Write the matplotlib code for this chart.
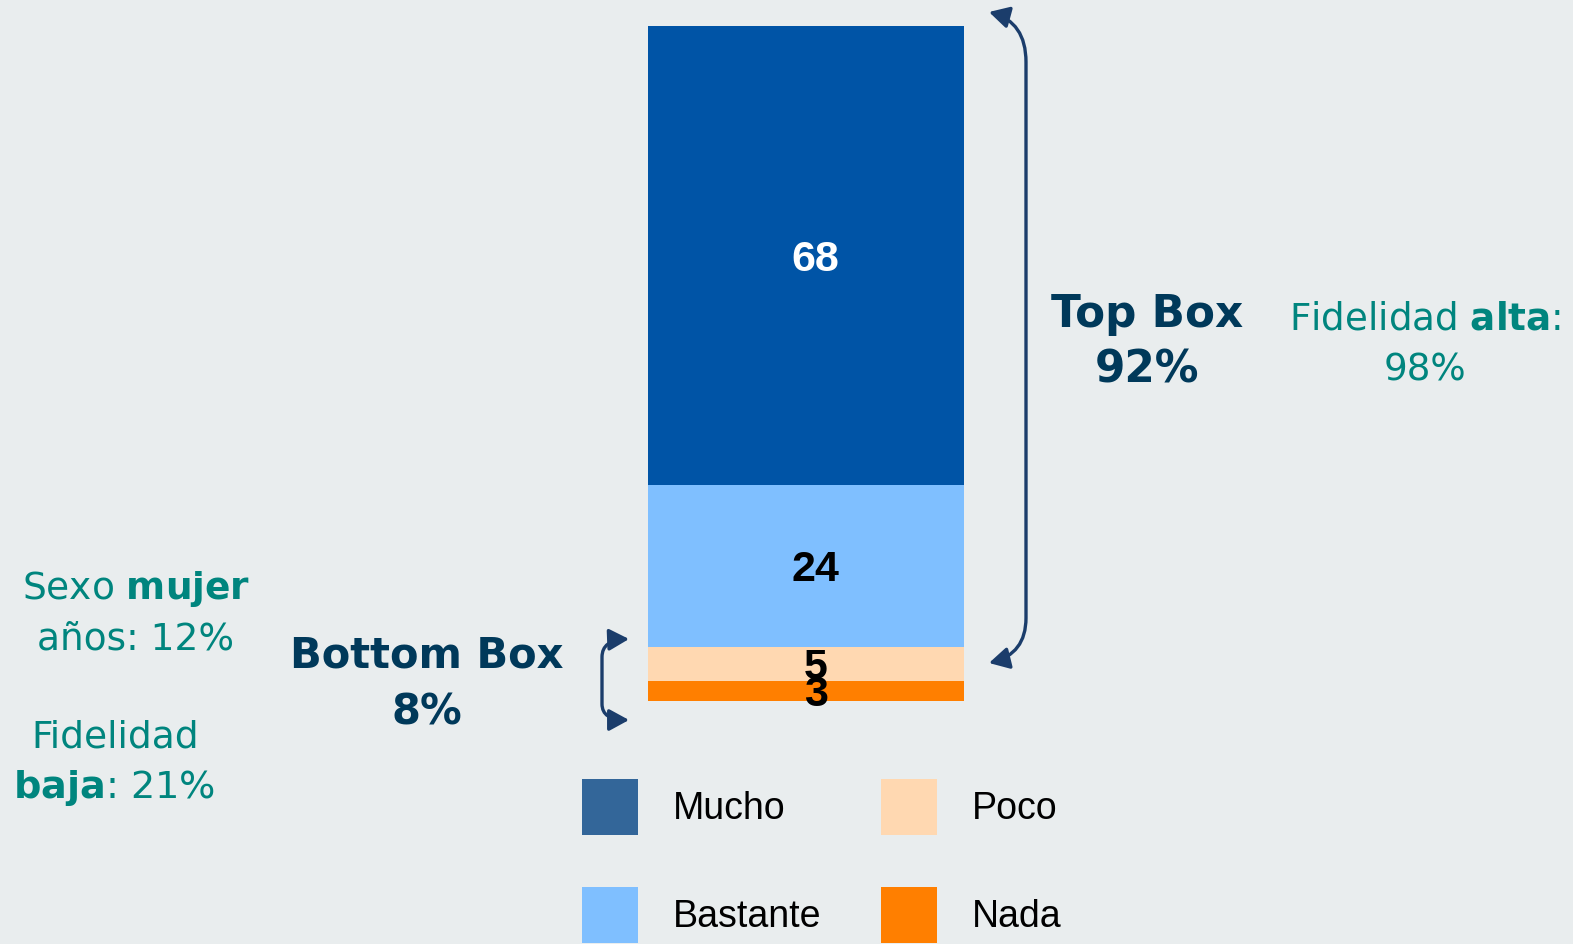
import matplotlib
matplotlib.use("Agg")
import matplotlib.pyplot as plt
from matplotlib.patches import Patch, FancyArrowPatch
from matplotlib.path import Path

categorias = ["Mucho", "Bastante", "Poco", "Nada"]
valores = [68, 24, 5, 3]
colores = ["#0054A6", "#7FBFFF", "#FFD8B1", "#FF7F00"]
colores_leyenda = ["#336699", "#7FBFFF", "#FFD8B1", "#FF7F00"]
color_etiqueta = ["white", "black", "black", "black"]

top_box = "Top Box\n92%"
bottom_box = "Bottom Box\n8%"

fondo = "#E9EDEE"
teal = "#00857E"
navy = "#00395A"
flecha = "#1B3D6B"

plt.rcParams["mathtext.fontset"] = "dejavusans"

W, H = 1573, 944
fig = plt.figure(figsize=(W / 100, H / 100), dpi=100, facecolor=fondo)

# barra apilada (de abajo hacia arriba: Nada, Poco, Bastante, Mucho)
ax = fig.add_axes([648 / W, (H - 701) / H, 316 / W, 675 / H])
ax.set_facecolor(fondo)
base = 0
for cat, v, c, tc in reversed(list(zip(categorias, valores, colores, color_etiqueta))):
    bars = ax.bar(0, v, width=1, bottom=base, color=c, label=cat)
    etiquetas = ax.bar_label(bars, labels=[str(v)], label_type="center", color=tc,
                             fontsize=31, fontweight="bold", family="Liberation Sans")
    for t in etiquetas:
        t.xyann = (7, -3)
    base += v
ax.set_xlim(-0.5, 0.5)
ax.set_ylim(0, 100)
ax.axis("off")

# capa de anotaciones en pixeles
ov = fig.add_axes([0, 0, 1, 1])
ov.set_xlim(0, W)
ov.set_ylim(H, 0)
ov.axis("off")
ov.patch.set_alpha(0)

ov.text(1147, 342, top_box, ha="center", va="center", fontsize=31.5,
        fontweight="bold", color=navy, linespacing=1.38)
ov.text(427, 684, bottom_box, ha="center", va="center", fontsize=30,
        fontweight="bold", color=navy, linespacing=1.47)

ov.text(1425, 319, r"Fidelidad $\mathbf{alta}$:", ha="center", va="center",
        fontsize=26.8, color=teal)
ov.text(1425, 370, "98%", ha="center", va="center", fontsize=26.8, color=teal)
ov.text(136, 589, r"Sexo $\mathbf{mujer}$", ha="center", va="center",
        fontsize=27, color=teal)
ov.text(136, 640, "años: 12%", ha="center", va="center", fontsize=27, color=teal)
ov.text(115, 738, "Fidelidad", ha="center", va="center", fontsize=27, color=teal)
ov.text(114, 788, r"$\mathbf{baja}$: 21%", ha="center", va="center",
        fontsize=27.5, color=teal)

estilo = "<|-|>,head_length=0.55,head_width=0.3"
p1 = Path([(989, 12), (1026, 22), (1026, 62), (1026, 618), (1026, 654), (989, 663)],
          [Path.MOVETO, Path.CURVE3, Path.CURVE3, Path.LINETO, Path.CURVE3, Path.CURVE3])
ov.add_patch(FancyArrowPatch(path=p1, arrowstyle=estilo, mutation_scale=22,
                             color=flecha, lw=2.4, shrinkA=0, shrinkB=0))
p2 = Path([(629, 639), (602, 640), (602, 657), (602, 704), (602, 720), (629, 720)],
          [Path.MOVETO, Path.CURVE3, Path.CURVE3, Path.LINETO, Path.CURVE3, Path.CURVE3])
ov.add_patch(FancyArrowPatch(path=p2, arrowstyle=estilo, mutation_scale=22,
                             color=flecha, lw=2.4, shrinkA=0, shrinkB=0))

handles = [Patch(facecolor=c, edgecolor="none", label=l)
           for l, c in zip(categorias, colores_leyenda)]
fig.legend(handles=handles, ncol=2, loc="upper left",
           bbox_to_anchor=(582 / W, 1 - 779 / H), frameon=False,
           prop={"family": "Liberation Sans", "size": 27},
           handlelength=1.5, handleheight=1.92, handletextpad=0.93,
           columnspacing=1.57, labelspacing=1.4, borderpad=0, borderaxespad=0)

fig.savefig("out.png", dpi=100, facecolor=fondo)
